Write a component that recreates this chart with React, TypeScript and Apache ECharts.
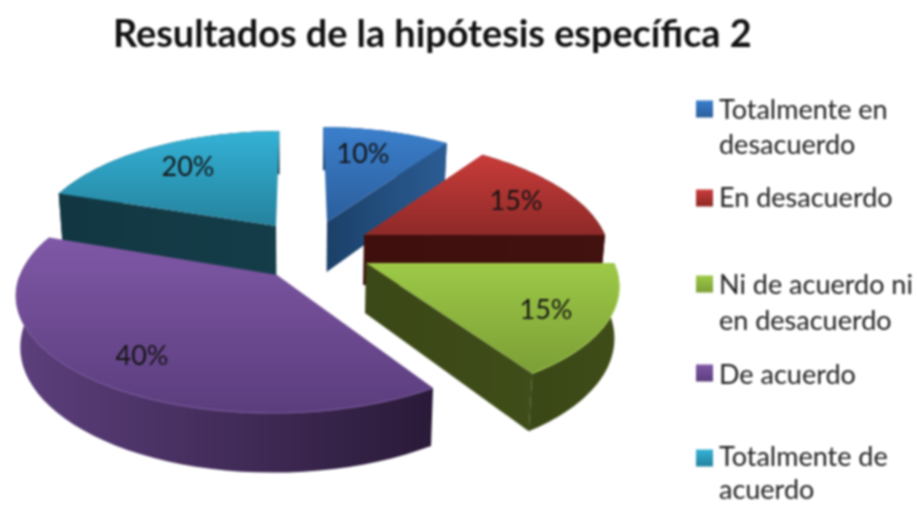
import React, { useEffect, useRef } from "react";
import * as echarts from "echarts";

const titleText = "Resultados de la hipótesis específica 2";
const categories = ["Totalmente en desacuerdo", "En desacuerdo", "Ni de acuerdo ni en desacuerdo", "De acuerdo", "Totalmente de acuerdo"];
const values = [10, 15, 15, 40, 20];
const legendLines = [["Totalmente en", "desacuerdo"], ["En desacuerdo"], ["Ni de acuerdo ni", "en desacuerdo"], ["De acuerdo"], ["Totalmente de", "acuerdo"]];

const topColors = [["#3b7fcc", "#2b5e9c"], ["#c93c3a", "#8d2a28"], ["#9dc947", "#7c9f36"], ["#7f58a6", "#5b3d7d"], ["#34b2d6", "#25829d"]];
const wallColors = [["#1d4470", "#2a5a92"], ["#3e0f0d", "#421210"], ["#3a4716", "#3f4d19"], ["#5c3f7c", "#2a1a38"], ["#123742", "#143d49"]];
const edgeWallColors = [["#1b4068", "#2b5c94"], ["#3e0f0d", "#421210"], ["#3b4817", "#3f4d19"], ["#2a1a38", "#2a1a38"], ["#123742", "#143d49"]];
const rimColors = ["#3b7fcc", "#c93c3a", "#a9d25a", "#7d5aa0", "#34b2d6"];

// Projection of each exploded slice: apex, radii, wall height, angle trims, stacking order
const VX = 300;
const K = 0.16;
const BOTTOM = 0.985;
const sliceGeom = [
  { ax: 327, ay: 222, rx: 236, ry: 110, d: 50, a0: 0, a1: 0, layer: 1 },
  { ax: 364, ay: 235, rx: 241, ry: 112, d: 50, a0: 0, a1: 0, layer: 3 },
  { ax: 366, ay: 263, rx: 248, ry: 114, d: 50, a0: 0, a1: 3, layer: 4 },
  { ax: 277, ay: 275, rx: 257, ry: 116, d: 50, a0: 3.5, a1: 2, layer: 5 },
  { ax: 276, ay: 226, rx: 241, ry: 110, d: 50, a0: 0, a1: 0, layer: 2 },
];
const labelPos = [[363, 152], [516, 199], [546, 308], [142, 354], [188, 165]];
const legendY = [[108, 143], [196], [283, 319], [373], [455.5, 488.5]];
const swatchY = [109, 198, 284, 373, 458];

const FONT = 'Lato, sans-serif';

function project(g: any, deg: number, bottom: boolean) {
  const t = (deg * Math.PI) / 180;
  const X = g.ax - VX + g.rx * Math.sin(t);
  const Y = -g.ry * Math.cos(t);
  const s = 1 / (1 + K * Math.cos(t));
  return [VX + X * s * (bottom ? BOTTOM : 1), g.ay + Y * s + (bottom ? g.d * s : 0)];
}

function renderSlice(params: any, api: any) {
  const i = params.dataIndex;
  const g = sliceGeom[i];
  const total = values.reduce((a, b) => a + b, 0);
  let before = 0;
  for (let k = 0; k < i; k++) before += values[k];
  const start = (before / total) * 360 + g.a0;
  const end = ((before + api.value(0)) / total) * 360 + g.a1;
  const steps = 48;
  const top: number[][] = [];
  const low: number[][] = [];
  const rim: number[][] = [];
  for (let k = 0; k <= steps; k++) {
    const a = start + ((end - start) * k) / steps;
    const p = project(g, a, false);
    top.push(p);
    low.push(project(g, a, true));
    if (Math.cos((a * Math.PI) / 180) < 0) rim.push(p);
  }
  const apexTop = [g.ax, g.ay];
  const apexLow = [VX + (g.ax - VX) * BOTTOM, g.ay + g.d];
  const base = g.layer * 10;
  const h = (c: string[]) => new echarts.graphic.LinearGradient(0, 0, 1, 0, [{ offset: 0, color: c[0] }, { offset: 1, color: c[1] }]);
  const v = (c: string[]) => new echarts.graphic.LinearGradient(0, 0, 0, 1, [{ offset: 0, color: c[0] }, { offset: 1, color: c[1] }]);
  const poly = (points: number[][], fill: any, z2: number) => ({ type: "polygon", z2, shape: { points }, style: { fill } });
  const children: any[] = [poly([...top, ...low.slice().reverse()], h(wallColors[i]), base)];
  // a radial wall shows only when it faces the viewer
  if (Math.sin((start * Math.PI) / 180) < -1e-6) children.push(poly([apexTop, top[0], low[0], apexLow], h(edgeWallColors[i]), base + 1));
  if (Math.sin((end * Math.PI) / 180) > 1e-6) children.push(poly([apexTop, top[steps], low[steps], apexLow], h(edgeWallColors[i]), base + 1));
  children.push(poly([apexTop, ...top], v(topColors[i]), base + 2));
  if (rim.length > 1) children.push({ type: "polyline", z2: base + 3, shape: { points: rim }, style: { fill: "none", stroke: rimColors[i], lineWidth: 1 } });
  children.push({
    type: "text",
    z2: 100,
    style: { x: labelPos[i][0], y: labelPos[i][1], text: `${api.value(0)}%`, font: `27px ${FONT}`, fill: "#141414", textAlign: "center", textVerticalAlign: "middle" },
  });
  return { type: "group", children };
}

export default function App() {
  const ref = useRef<HTMLDivElement>(null);
  useEffect(() => {
    const chart = echarts.init(ref.current!, null, { renderer: "svg" });
    const legend: any[] = [];
    categories.forEach((_, i) => {
      legend.push({
        type: "rect",
        shape: { x: 696, y: swatchY[i] - 8.5, width: 17, height: 17 },
        style: { fill: new echarts.graphic.LinearGradient(0, 0, 0, 1, [{ offset: 0, color: topColors[i][0] }, { offset: 1, color: topColors[i][1] }]) },
      });
      legendLines[i].forEach((line, k) => {
        legend.push({
          type: "text",
          x: 719,
          y: legendY[i][k],
          style: { text: line, font: `27px ${FONT}`, fill: "#222", textVerticalAlign: "middle" },
        });
      });
    });
    chart.setOption({
      animation: false,
      backgroundColor: "#fff",
      title: { text: titleText, left: 108, top: 8, textStyle: { fontFamily: "Lato, sans-serif", fontSize: 37.8, fontWeight: "bold", color: "#111" } },
      graphic: legend,
      series: [
        {
          type: "custom",
          coordinateSystem: "none",
          silent: true,
          renderItem: renderSlice,
          data: values.map((value, i) => ({ name: categories[i], value })),
        },
      ],
    });
    return () => chart.dispose();
  }, []);
  return <div ref={ref} style={{ position: "fixed", left: 0, top: 0, width: 917, height: 505, filter: "blur(0.8px)" }} />;
}
